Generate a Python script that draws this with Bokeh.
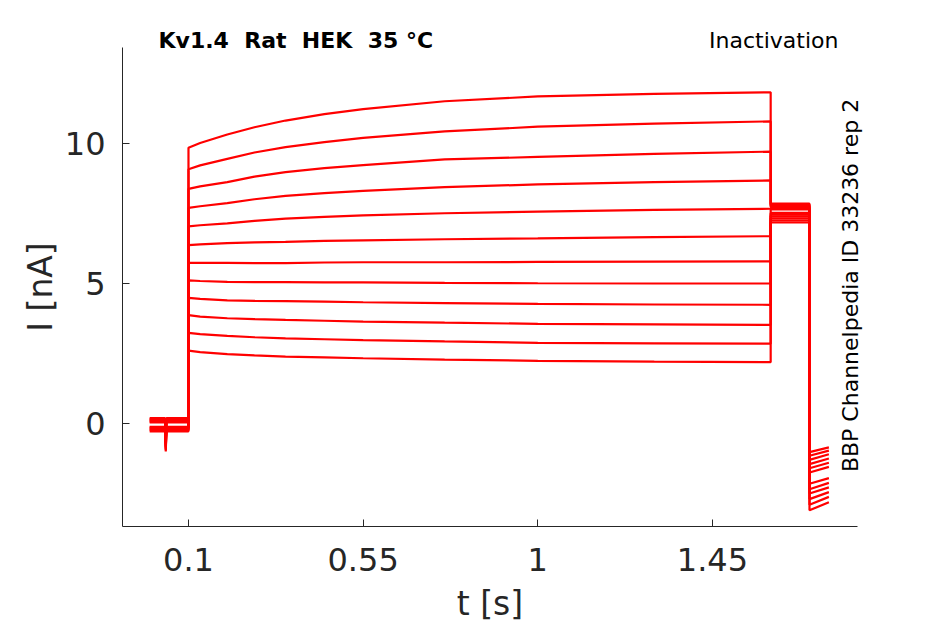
import math
from bokeh.plotting import figure
from bokeh.models import Range1d, Label, ColumnDataSource, FixedTicker, CustomJSTickFormatter
from bokeh.embed import file_html
from bokeh.resources import INLINE

# ---- data ----
hold_t = [0.0, 0.040, 0.0415, 0.043, 0.1]
hold_base = [0.19, 0.16, 0.13, 0.10, 0.07, 0.04, -0.12, -0.15, -0.18, -0.21, -0.24, -0.28]
hold_notch = [-0.55, -0.6, -0.62, -0.65, -0.68, -0.7, -0.75, -0.8, -0.85, -0.9, -0.95, -1.0]

step_t = [0.1, 0.13, 0.2, 0.27, 0.35, 0.45, 0.55, 0.76, 1.0, 1.3, 1.6]
step_vals = [
    [9.85, 10.02, 10.32, 10.58, 10.82, 11.05, 11.23, 11.51, 11.68, 11.77, 11.83],
    [9.08, 9.22, 9.45, 9.68, 9.87, 10.05, 10.20, 10.43, 10.60, 10.71, 10.79],
    [8.38, 8.47, 8.62, 8.82, 8.98, 9.12, 9.23, 9.43, 9.52, 9.63, 9.71],
    [7.70, 7.76, 7.87, 8.01, 8.13, 8.23, 8.31, 8.44, 8.54, 8.62, 8.68],
    [7.04, 7.08, 7.15, 7.24, 7.32, 7.38, 7.43, 7.51, 7.57, 7.63, 7.67],
    [6.37, 6.40, 6.44, 6.47, 6.49, 6.52, 6.54, 6.58, 6.61, 6.66, 6.69],
    [5.74, 5.74, 5.74, 5.73, 5.73, 5.75, 5.76, 5.76, 5.77, 5.78, 5.79],
    [5.11, 5.09, 5.06, 5.05, 5.05, 5.04, 5.04, 5.02, 5.01, 5.00, 5.00],
    [4.49, 4.45, 4.40, 4.38, 4.37, 4.35, 4.33, 4.30, 4.27, 4.25, 4.24],
    [3.87, 3.82, 3.76, 3.73, 3.70, 3.67, 3.64, 3.60, 3.56, 3.54, 3.52],
    [3.24, 3.19, 3.13, 3.08, 3.04, 3.01, 2.98, 2.93, 2.88, 2.86, 2.85],
    [2.60, 2.55, 2.48, 2.43, 2.39, 2.36, 2.33, 2.28, 2.24, 2.21, 2.19],
]

test_t = [1.6, 1.7]
test_vals = [7.85, 7.81, 7.77, 7.73, 7.69, 7.65, 7.52, 7.46, 7.40, 7.33, 7.26, 7.18]

tail_t = [1.7, 1.75]
tail_start = [-1.02, -1.15, -1.3, -1.45, -1.6, -1.75, -2.15, -2.35, -2.5, -2.7, -2.9, -3.1]
tail_end = [-0.85, -0.97, -1.1, -1.25, -1.4, -1.55, -1.95, -2.12, -2.28, -2.45, -2.62, -2.81]

x_ticks = [0.1, 0.55, 1, 1.45]
y_ticks = [0, 5, 10]

# axes extent (the drawn box)
x_axis_lim = (-0.07, 1.8237)
y_axis_lim = (-3.678, 13.43)

# ---- build traces ----
xs, ys = [], []
for i in range(len(step_vals)):
    b, n = hold_base[i], hold_notch[i]
    tx = list(hold_t) + list(step_t) + list(test_t) + list(tail_t)
    ty = [b, b, n, b, b] + list(step_vals[i]) + [test_vals[i], test_vals[i]] + [tail_start[i], tail_end[i]]
    xs.append(tx)
    ys.append(ty)
src = ColumnDataSource(dict(xs=xs, ys=ys))

FONT = "DejaVu Sans"
AX = "#262626"

# frame is extended above/right so that the texts there are not clipped;
# the axis lines are limited with bounds to the real axes box
p = figure(width=900, height=624, output_backend="svg", toolbar_location=None,
           x_range=Range1d(-0.07, 1.88296), y_range=Range1d(-3.678, 14.393),
           min_border_left=122, min_border_right=20, min_border_top=20, min_border_bottom=98)
p.outline_line_color = None
p.grid.visible = False
p.background_fill_color = "white"

p.multi_line(xs="xs", ys="ys", source=src, line_color="#ff0000", line_width=2.2)

for ax in (p.xaxis[0], p.yaxis[0]):
    ax.axis_line_color = AX
    ax.axis_line_width = 1
    ax.major_tick_line_color = AX
    ax.major_tick_in = 7
    ax.major_tick_out = 0
    ax.minor_tick_line_color = None
    ax.major_label_text_font = FONT
    ax.major_label_text_font_size = "32px"
    ax.major_label_text_color = AX
    ax.formatter = CustomJSTickFormatter(code="return tick.toString();")

p.xaxis.bounds = x_axis_lim
p.yaxis.bounds = y_axis_lim
p.xaxis.ticker = FixedTicker(ticks=x_ticks)
p.yaxis.ticker = FixedTicker(ticks=y_ticks)
p.xaxis.major_label_standoff = 21
p.yaxis.major_label_standoff = 17

x_mid = (x_axis_lim[0] + x_axis_lim[1]) / 2
y_mid = (y_axis_lim[0] + y_axis_lim[1]) / 2

# axis titles, centred on the axes box (placed in the side panels)
p.add_layout(Label(x=x_mid, y=-6.43, text="t [s]", text_font=FONT, text_font_size="33px",
                   text_color=AX, text_align="center", text_baseline="middle"), "below")
p.add_layout(Label(x=-0.2813, y=y_mid, text="I [nA]", text_font=FONT, text_font_size="33px",
                   text_color=AX, angle=math.pi / 2, text_align="center",
                   text_baseline="middle"), "left")

p.add_layout(Label(x=0.0228, y=13.68, text="Kv1.4\u00a0 Rat\u00a0 HEK\u00a0 35 °C", text_font=FONT,
                   text_font_style="bold", text_font_size="22px", text_color="black",
                   text_align="left", text_baseline="middle"))
p.add_layout(Label(x=1.7747, y=13.68, text="Inactivation", text_font=FONT,
                   text_font_size="22px", text_color="black",
                   text_align="right", text_baseline="middle"))
p.add_layout(Label(x=1.8056, y=4.93, text="BBP Channelpedia ID 33236 rep 2", text_font=FONT,
                   text_font_size="22px", text_color="black", angle=math.pi / 2,
                   text_align="center", text_baseline="middle"))

open("out.html", "w").write(file_html(p, INLINE))
